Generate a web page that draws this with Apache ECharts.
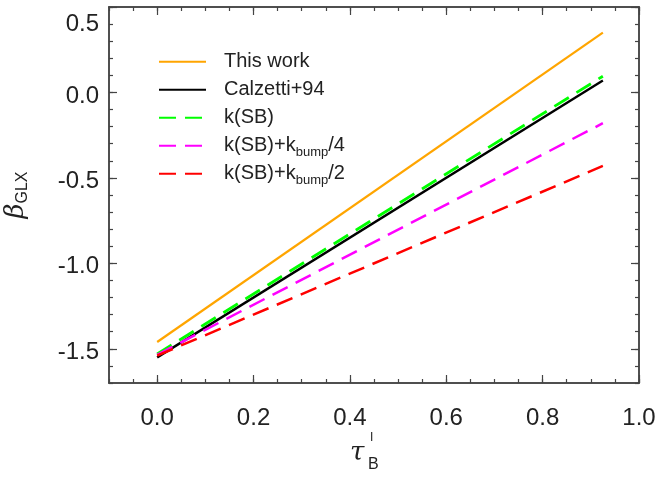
<!DOCTYPE html>
<html>
<head>
<meta charset="utf-8">
<script src="https://cdn.jsdelivr.net/npm/echarts@6/dist/echarts.min.js"></script>
<style>
html,body{margin:0;padding:0;background:#fff;}
#chart{width:660px;height:478px;}
</style>
</head>
<body>
<div id="chart"></div>
<script>
// ---- data ----
const tauValues = [0.0, 0.925];
const thisWork = [-1.46, 0.35];
const calzetti94 = [-1.55, 0.07];
const kSB = [-1.53, 0.095];
const kSBbump4 = [-1.535, -0.18];
const kSBbump2 = [-1.54, -0.43];
const seriesNames = ['This work', 'Calzetti+94', 'k(SB)', 'k(SB)+k_bump/4', 'k(SB)+k_bump/2'];
const xMajorTicks = [0.0, 0.2, 0.4, 0.6, 0.8, 1.0];
const yMajorTicks = [-1.5, -1.0, -0.5, 0.0, 0.5];

const FONT = 'Liberation Sans';
const TXT = '#222';
const FRAME = '#444';
const xMin = -0.1, xMax = 1.0, yMin = -1.7, yMax = 0.5;

function pts(ys) { return tauValues.map((x, i) => [x, ys[i]]); }

function xAx(pos, major, labels) {
  const a = {
    type: 'value', position: pos, min: xMin, max: xMax, gridIndex: 0, offset: 0,
    axisLine: { show: true, onZero: false, lineStyle: { color: FRAME, width: 1.5 } },
    splitLine: { show: false }
  };
  if (major) {
    a.axisTick = { show: true, inside: true, length: 8, customValues: xMajorTicks, lineStyle: { color: FRAME, width: 1.2 } };
    a.axisLabel = labels ? {
      show: true, customValues: xMajorTicks, margin: 23, fontSize: 24, fontFamily: FONT, color: TXT,
      formatter: v => v.toFixed(1)
    } : { show: false };
  } else {
    a.interval = 0.05;
    a.axisTick = { show: true, inside: true, length: 4, lineStyle: { color: FRAME, width: 1.2 } };
    a.axisLabel = { show: false };
  }
  return a;
}
function yAx(pos, major, labels) {
  const a = {
    type: 'value', position: pos, min: yMin, max: yMax, gridIndex: 0, offset: 0,
    axisLine: { show: true, onZero: false, lineStyle: { color: FRAME, width: 1.5 } },
    splitLine: { show: false }
  };
  if (major) {
    a.axisTick = { show: true, inside: true, length: 8, customValues: yMajorTicks, lineStyle: { color: FRAME, width: 1.2 } };
    a.axisLabel = labels ? {
      show: true, customValues: yMajorTicks, margin: 10, fontSize: 24, fontFamily: FONT, color: TXT,
      formatter: v => (Math.abs(v - 0.5) < 1e-9 ? '{top|' : '{n|') + v.toFixed(1) + '}',
      rich: {
        n: { fontSize: 24, fontFamily: FONT, color: TXT, padding: [7, 0, 0, 0] },
        top: { fontSize: 24, fontFamily: FONT, color: TXT, padding: [34, 0, 0, 0] }
      }
    } : { show: false };
    if (labels) {
      a.name = '{b|β}{s|GLX}';
      a.nameLocation = 'middle';
      a.nameRotate = 90;
      a.nameGap = 78;
      a.nameTextStyle = {
        rich: {
          b: { fontSize: 26, fontFamily: 'DejaVu Serif', fontStyle: 'italic', color: TXT, lineHeight: 30 },
          s: { fontSize: 16, fontFamily: FONT, color: TXT, lineHeight: 16, padding: [14, 0, 0, 0] }
        }
      };
    }
  } else {
    a.interval = 0.1;
    a.axisTick = { show: true, inside: true, length: 4, lineStyle: { color: FRAME, width: 1.2 } };
    a.axisLabel = { show: false };
  }
  return a;
}

function line(name, ys, color, width, dashed) {
  return {
    type: 'line', name: name, data: pts(ys), xAxisIndex: 0, yAxisIndex: 0,
    showSymbol: false, symbol: 'none', silent: true, animation: false,
    lineStyle: { color: color, width: width, type: dashed ? [17, 9] : 'solid' },
    itemStyle: { color: color }
  };
}

const chart = echarts.init(document.getElementById('chart'), null, { renderer: 'canvas' });
chart.setOption({
  animation: false,
  backgroundColor: '#fff',
  grid: { left: 109, right: 21, top: 7, bottom: 95, containLabel: false, outerBoundsMode: 'none' },
  xAxis: [xAx('bottom', true, true), xAx('bottom', false), xAx('top', true, false), xAx('top', false)],
  yAxis: [yAx('left', true, true), yAx('left', false), yAx('right', true, false), yAx('right', false)],
  legend: {
    orient: 'vertical', left: 153, top: 42.7, itemWidth: 47, itemHeight: 14, itemGap: 0,
    data: seriesNames,
    itemStyle: { opacity: 0, borderWidth: 0 },
    formatter: n => n.replace(/_bump/, '{sub|bump}'),
    textStyle: {
      fontSize: 20, fontFamily: FONT, color: TXT, lineHeight: 28, padding: [0, 0, 0, 13],
      rich: {
        sub: { fontSize: 13, fontFamily: FONT, color: TXT, lineHeight: 14, padding: [14, 0, 0, 0] }
      }
    }
  },
  graphic: [
    { type: 'text', left: 350, top: 440, style: { text: 'τ', font: 'italic 26px "DejaVu Serif"', fill: TXT } },
    { type: 'text', left: 370, top: 432, style: { text: 'I', font: '12px "Liberation Sans"', fill: TXT } },
    { type: 'text', left: 368, top: 457, style: { text: 'B', font: '16px "Liberation Sans"', fill: TXT } }
  ],
  series: [
    line(seriesNames[0], thisWork, '#FFA500', 2.2, false),
    line(seriesNames[1], calzetti94, '#000000', 2.4, false),
    line(seriesNames[2], kSB, '#00FF00', 2.8, true),
    line(seriesNames[3], kSBbump4, '#FF00FF', 2.5, true),
    line(seriesNames[4], kSBbump2, '#FF0000', 2.5, true)
  ]
});
</script>
</body>
</html>
